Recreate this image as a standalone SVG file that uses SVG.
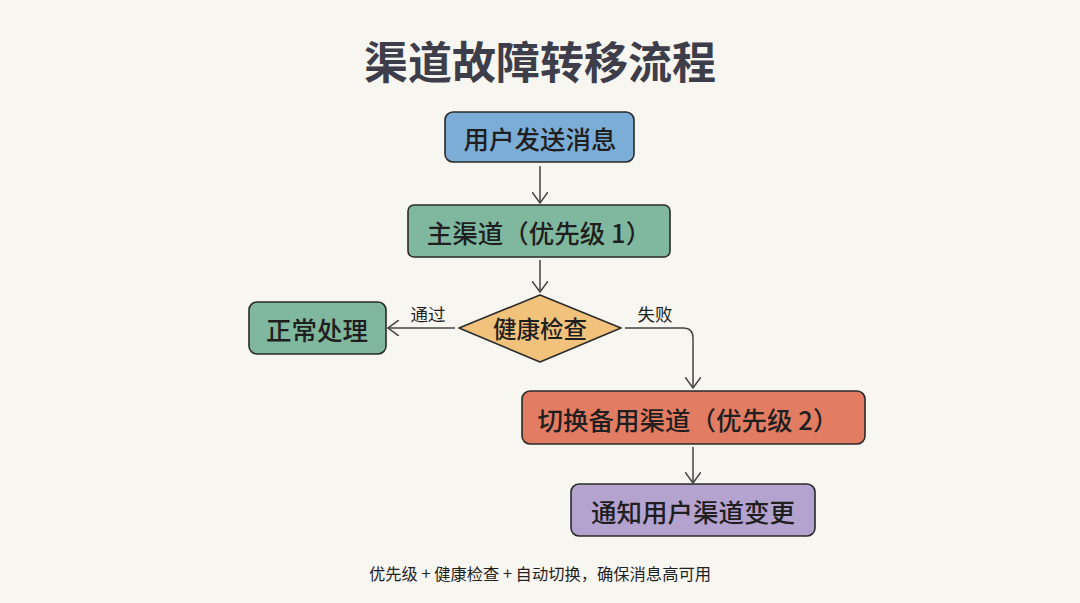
<svg xmlns="http://www.w3.org/2000/svg" width="1080" height="603" viewBox="0 0 1080 603">
<defs>
<style>
.t{font-family:"Noto Sans CJK SC","Noto Sans",sans-serif;fill:#1f1f1f;text-anchor:middle;dominant-baseline:central}
.b{font-size:25.5px;font-weight:500}
.n{stroke:#2a2a2a;stroke-width:1.6}
.c{fill:none;stroke:#444;stroke-width:1.5}
</style>
<marker id="a" viewBox="0 0 12 16" refX="11" refY="8" markerWidth="12" markerHeight="16" markerUnits="userSpaceOnUse" orient="auto">
<path d="M0,0 L11,8 L0,16" fill="none" stroke="#444" stroke-width="1.5"/>
</marker>
</defs>
<rect width="1080" height="603" fill="#f8f6f0"/>
<text class="t" x="540" y="60" font-size="44" font-weight="600" style="fill:#3e3e4a">渠道故障转移流程</text>
<g id="connectors">
<path class="c" d="M540,166 L540,203" marker-end="url(#a)"/>
<path class="c" d="M540,260 L540,292" marker-end="url(#a)"/>
<path class="c" d="M455,328 L388,328" marker-end="url(#a)"/>
<path class="c" d="M625,328 L683,328 Q693,328 693,338 L693,388" marker-end="url(#a)"/>
<path class="c" d="M693,447 L693,483" marker-end="url(#a)"/>
<text class="t" x="428" y="313" font-size="17.5">通过</text>
<text class="t" x="655" y="313" font-size="17.5">失败</text>
</g>
<g id="n1"><rect class="n" x="445" y="112" width="189" height="50" rx="8" fill="#7badd7"/><text class="t b" x="540" y="137">用户发送消息</text></g>
<g id="n2"><rect class="n" x="408" y="205" width="262" height="52" rx="6" fill="#7fb89e"/><text class="t b" x="539" y="231">主渠道（优先级 1）</text></g>
<g id="n3"><path class="n" d="M540,295 L621,328 L540,362 L459,328 Z" stroke-linejoin="round" fill="#f1c27c"/><text class="t" x="540" y="328" font-size="23.5" font-weight="500">健康检查</text></g>
<g id="n4"><rect class="n" x="249" y="302" width="137" height="52" rx="8" fill="#7fb89e"/><text class="t b" x="317" y="328">正常处理</text></g>
<g id="n5"><rect class="n" x="522" y="391" width="343" height="53" rx="8" fill="#e27c63"/><text class="t b" x="688" y="418">切换备用渠道（优先级 2）</text></g>
<g id="n6"><rect class="n" x="571" y="484" width="244" height="52" rx="8" fill="#b4a2cf"/><text class="t b" x="693" y="510">通知用户渠道变更</text></g>
<text class="t" x="540" y="573" font-size="16.3">优先级 + 健康检查 + 自动切换，确保消息高可用</text>
</svg>
